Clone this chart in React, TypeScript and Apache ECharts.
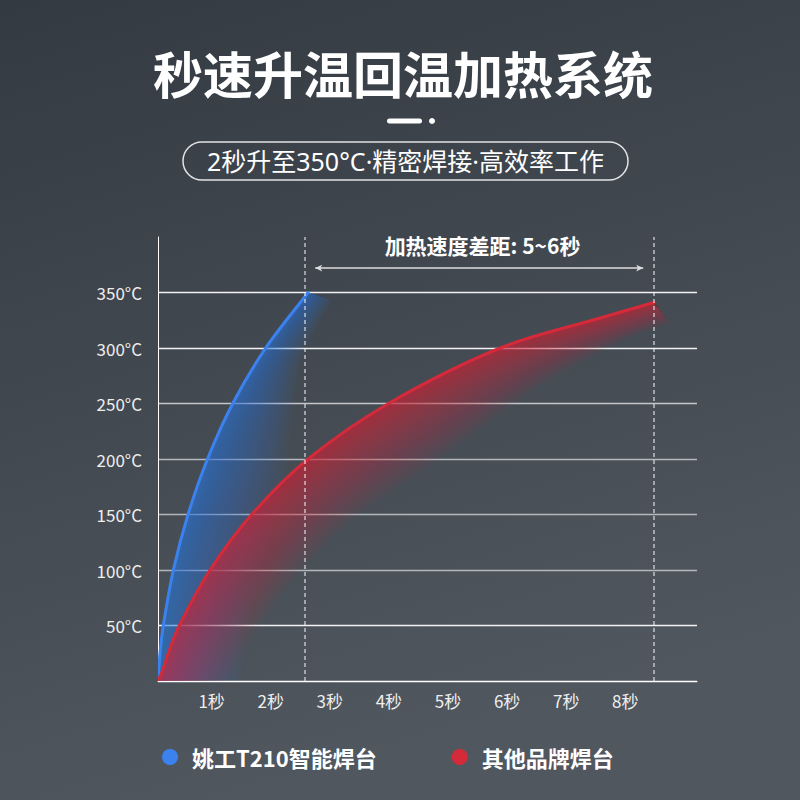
import React, { useEffect, useRef } from 'react';
import * as echarts from 'echarts';

const FONT = '"Noto Sans CJK SC", "Noto Sans", sans-serif';
const LATIN_FIRST = '"Noto Sans", "Noto Sans CJK SC", sans-serif';

const titleText = '秒速升温回温加热系统';
const subtitleText = '2秒升至350°C·精密焊接·高效率工作';
const gapText = '加热速度差距: 5~6秒';
const seriesNames = ['姚工T210智能焊台', '其他品牌焊台'];
const seriesColors = ['#3b82ef', '#d52a3a'];

const xTickLabels = ['1秒', '2秒', '3秒', '4秒', '5秒', '6秒', '7秒', '8秒'];
const yTickLabels = ['50°C', '100°C', '150°C', '200°C', '250°C', '300°C', '350°C'];

// seconds / °C
const ourTimes = [0, 0.034, 0.09, 0.26, 0.508, 0.838, 1.264, 1.822, 2.54];
const ourTemps = [0, 25, 50, 100, 150, 200, 250, 300, 350];
const otherTimes = [0, 0.08, 0.174, 0.36, 0.88, 1.585, 2.54, 3.9, 5.79, 7.48, 8.39];
const otherTemps = [0, 10, 25, 50, 100, 150, 200, 250, 300, 327, 341];

const finishTimes = [2.49, 8.38];
const gapArrowTimes = [2.66, 8.21];
const gapArrowTemp = 372;

function splineTo(ctx: any, pts: number[][], start: boolean) {
  const n = pts.length;
  if (start) ctx.moveTo(pts[0][0], pts[0][1]);
  else ctx.lineTo(pts[0][0], pts[0][1]);
  const k = 0.34;
  const cps = pts.map((p, i) => {
    const prev = pts[i - 1] || p;
    const next = pts[i + 1] || p;
    const vx = next[0] - prev[0];
    const vy = next[1] - prev[1];
    const lp = Math.hypot(p[0] - prev[0], p[1] - prev[1]);
    const ln = Math.hypot(next[0] - p[0], next[1] - p[1]);
    const tot = lp + ln || 1;
    return {
      out: [p[0] + (vx * k * ln) / tot, p[1] + (vy * k * ln) / tot],
      inn: [p[0] - (vx * k * lp) / tot, p[1] - (vy * k * lp) / tot],
    };
  });
  for (let i = 0; i < n - 1; i++) {
    ctx.bezierCurveTo(cps[i].out[0], cps[i].out[1], cps[i + 1].inn[0], cps[i + 1].inn[1], pts[i + 1][0], pts[i + 1][1]);
  }
}

const BandShape = echarts.graphic.extendShape({
  type: 'heatBand',
  shape: { pts: [] as number[][], far: [] as number[][] },
  buildPath(ctx: any, shape: any) {
    const pts: number[][] = shape.pts;
    const far: number[][] = shape.far;
    if (!pts || pts.length < 2) return;
    splineTo(ctx, pts, true);
    splineTo(ctx, far.slice().reverse(), false);
    ctx.closePath();
  },
});
const CurveShape = echarts.graphic.extendShape({
  type: 'heatCurve',
  shape: { pts: [] as number[][] },
  buildPath(ctx: any, shape: any) {
    const pts: number[][] = shape.pts;
    if (!pts || pts.length < 2) return;
    splineTo(ctx, pts, true);
  },
});
echarts.graphic.registerShape('heatBand', BandShape);
echarts.graphic.registerShape('heatCurve', CurveShape);

function hexToRgba(hex: string, a: number) {
  const v = parseInt(hex.slice(1), 16);
  return `rgba(${(v >> 16) & 255},${(v >> 8) & 255},${v & 255},${a})`;
}

function makeRender(
  times: number[],
  temps: number[],
  color: string,
  dir: number[],
  reach: number,
  bands: number,
  alpha: number,
  taperStart: number,
  taperEnd: number
) {
  return (params: any, api: any) => {
    if (params.dataIndex !== 0) return null;
    const pts: number[][] = times.map((t, i) => api.coord([t, temps[i]]));
    const cum = [0];
    for (let i = 1; i < pts.length; i++) cum.push(cum[i - 1] + Math.hypot(pts[i][0] - pts[i - 1][0], pts[i][1] - pts[i - 1][1]));
    const total = cum[cum.length - 1] || 1;
    const w = cum.map((c) => {
      const u = c / total;
      const t = Math.max(0, (u - taperStart) / (1 - taperStart));
      return 1 - (1 - taperEnd) * t * t * (3 - 2 * t);
    });
    const len = Math.hypot(dir[0], dir[1]);
    const ux = dir[0] / len;
    const uy = dir[1] / len;
    const children: any[] = [];
    for (let b = bands; b >= 1; b--) {
      const d = reach * Math.pow(b / bands, 1.6);
      const far = pts.map((p, i) => [p[0] + ux * d * w[i], p[1] + uy * d * w[i]]);
      children.push({
        type: 'heatBand',
        shape: { pts, far },
        style: { fill: hexToRgba(color, alpha), stroke: 'none' },
        silent: true,
      });
    }
    children.push({
      type: 'heatCurve',
      shape: { pts },
      style: { fill: 'none', stroke: color, lineWidth: 3, lineCap: 'round' },
      silent: true,
    });
    return { type: 'group', children };
  };
}

export default function App() {
  const ref = useRef<HTMLDivElement>(null);
  useEffect(() => {
    if (!ref.current) return;
    const chart = echarts.init(ref.current, undefined, { renderer: 'svg' });
    const ourData = ourTimes.map((t, i) => [t, ourTemps[i]]);
    const otherData = otherTimes.map((t, i) => [t, otherTemps[i]]);
    const dashStyle = { color: 'rgba(255,255,255,0.65)', width: 1.5, type: [4, 3] };
    chart.setOption({
      animation: false,
      backgroundColor: new echarts.graphic.LinearGradient(0, 0, 0.3, 1, [
        { offset: 0, color: '#343a42' },
        { offset: 1, color: '#50575f' },
      ]),
      color: seriesColors,
      grid: { left: 158, right: 103, top: 237, bottom: 119, containLabel: false },
      legend: {
        data: seriesNames,
        icon: 'circle',
        left: 162,
        top: 746,
        padding: 0,
        itemWidth: 16,
        itemHeight: 16,
        itemGap: 75,
        selectedMode: false,
        textStyle: { color: '#ffffff', fontSize: 22, fontWeight: 'bold', fontFamily: FONT, padding: [0, 0, 0, 9] },
      },
      xAxis: {
        type: 'value',
        min: 0,
        max: 9.12,
        interval: 1,
        axisLine: { show: true, lineStyle: { color: '#ffffff', width: 1 } },
        axisTick: { show: false },
        splitLine: { show: false },
        axisLabel: {
          color: '#eeeeee',
          fontSize: 17,
          fontFamily: FONT,
          margin: 11,
          padding: [0, 11, 0, 0],
          formatter: (v: number) => (Number.isInteger(v) ? xTickLabels[v - 1] ?? '' : ''),
        },
      },
      yAxis: {
        type: 'value',
        min: 0,
        max: 400,
        interval: 50,
        axisLine: { show: true, lineStyle: { color: '#ffffff', width: 1 } },
        axisTick: { show: false },
        splitLine: {
          show: true,
          showMaxLine: false,
          lineStyle: {
            width: 1.3,
            color: ['#ffffff', '#f2f2f2', '#b4b7bb', '#b4b7bb', '#b4b7bb', '#c4c6ca', '#f2f2f2', '#f2f2f2'],
          },
        },
        axisLabel: {
          color: '#eeeeee',
          fontSize: 17,
          fontFamily: FONT,
          margin: 16,
          formatter: (v: number) => yTickLabels[v / 50 - 1] ?? '',
        },
      },
      series: [
        {
          name: seriesNames[0],
          type: 'custom',
          coordinateSystem: 'cartesian2d',
          clip: true,
          itemStyle: { color: seriesColors[0] },
          data: ourData,
          renderItem: makeRender(ourTimes, ourTemps, seriesColors[0], [1, 0.3], 85, 26, 0.04, 0.45, 0.3),
          z: 2,
        },
        {
          name: seriesNames[1],
          type: 'custom',
          coordinateSystem: 'cartesian2d',
          clip: true,
          itemStyle: { color: seriesColors[1] },
          data: otherData,
          renderItem: makeRender(otherTimes, otherTemps, seriesColors[1], [0.8, 1], 75, 26, 0.046, 0.55, 0.35),
          z: 3,
        },
        {
          name: 'guides',
          type: 'line',
          data: [[finishTimes[0], 0]],
          symbol: 'none',
          lineStyle: { opacity: 0 },
          silent: true,
          z: 4,
          markLine: {
            silent: true,
            animation: false,
            symbol: ['none', 'none'],
            label: { show: false },
            emphasis: { disabled: true },
            data: [
              { xAxis: finishTimes[0], lineStyle: dashStyle },
              { xAxis: finishTimes[1], lineStyle: dashStyle },
              [
                {
                  coord: [gapArrowTimes[0], gapArrowTemp],
                  symbol: 'arrow',
                  symbolSize: [5, 7],
                  lineStyle: { color: '#dcdcdc', width: 1.5, type: 'solid' },
                },
                { coord: [gapArrowTimes[1], gapArrowTemp], symbol: 'arrow', symbolSize: [5, 7] },
              ],
            ],
          },
        },
      ],
      graphic: [
        {
          type: 'text',
          x: 403,
          y: 72,
          silent: true,
          style: {
            text: titleText,
            fill: '#ffffff',
            font: `bold 50px ${FONT}`,
            align: 'center',
            verticalAlign: 'middle',
          },
        },
        { type: 'rect', silent: true, shape: { x: 387, y: 118.5, width: 35, height: 5, r: 2.5 }, style: { fill: '#ffffff' } },
        { type: 'circle', silent: true, shape: { cx: 432, cy: 121, r: 3 }, style: { fill: '#ffffff' } },
        {
          type: 'rect',
          silent: true,
          shape: { x: 183, y: 142, width: 445, height: 38, r: 19 },
          style: { fill: 'none', stroke: 'rgba(255,255,255,0.85)', lineWidth: 1.5 },
        },
        {
          type: 'text',
          x: 405.5,
          y: 161,
          silent: true,
          style: {
            text: subtitleText,
            fill: '#ffffff',
            font: `25px ${LATIN_FIRST}`,
            align: 'center',
            verticalAlign: 'middle',
          },
        },
        {
          type: 'text',
          x: 482.5,
          y: 245,
          silent: true,
          style: {
            text: gapText,
            fill: '#ffffff',
            font: `bold 21px ${FONT}`,
            align: 'center',
            verticalAlign: 'middle',
          },
        },
      ],
    });
    return () => chart.dispose();
  }, []);
  return <div ref={ref} style={{ position: 'fixed', left: 0, top: 0, width: 800, height: 800 }} />;
}
